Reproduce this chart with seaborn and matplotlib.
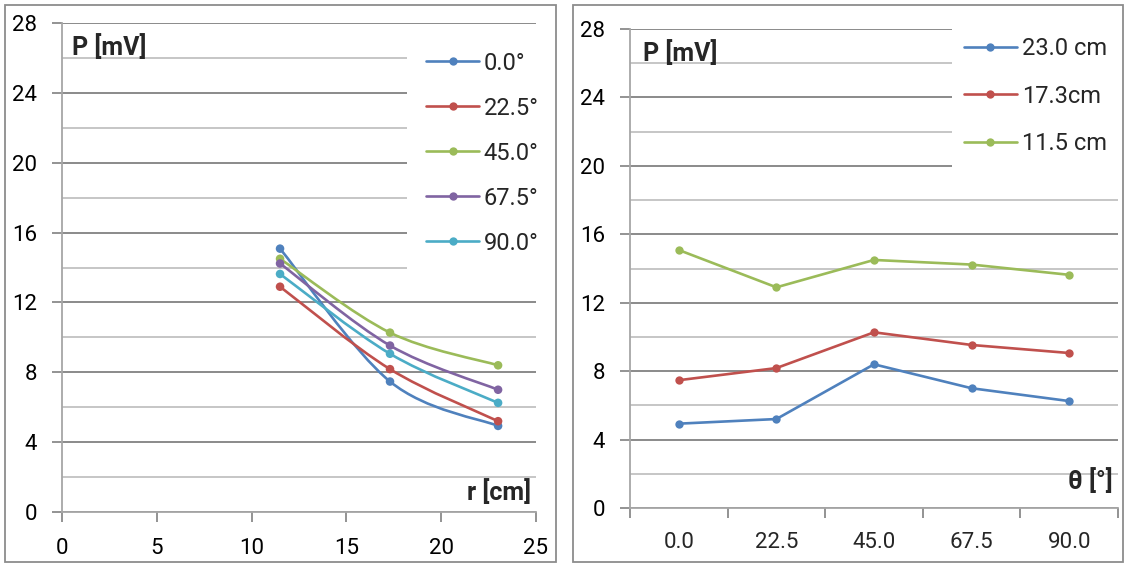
import matplotlib
matplotlib.use("Agg")
import numpy as np
import pandas as pd
import seaborn as sns
import matplotlib.pyplot as plt
from matplotlib.path import Path
from matplotlib.patches import PathPatch, Rectangle
from matplotlib.lines import Line2D

# data
r_cm = [11.5, 17.3, 23.0]
angle_labels = ["0.0", "22.5", "45.0", "67.5", "90.0"]
P_23cm = [4.93, 5.20, 8.40, 7.00, 6.25]
P_17cm = [7.47, 8.18, 10.27, 9.53, 9.06]
P_11cm = [15.08, 12.90, 14.50, 14.23, 13.63]

colors = ["#4F81BD", "#C0504D", "#9BBB59", "#8064A2", "#4BACC6"]
dist_names = ["23.0 cm", "17.3cm", "11.5 cm"]

sns.set_theme(style="white")
plt.rcParams['font.family'] = ['Roboto', 'DejaVu Sans']
FS = 16      # tick labels
LFS = 17     # legend
BFS = 18     # bold axis titles

W, H = 1128, 565
fig = plt.figure(figsize=(W / 100, H / 100), dpi=100)
fig.patch.set_facecolor("white")

# panel frames
fig.add_artist(Rectangle((5 / W, 1 - 562 / H), 551 / W, 557 / H, transform=fig.transFigure,
                         fill=False, ec="#8c8c8c", lw=1.3))
fig.add_artist(Rectangle((573 / W, 1 - 562 / H), 550 / W, 557 / H, transform=fig.transFigure,
                         fill=False, ec="#8c8c8c", lw=1.3))

ax1 = fig.add_axes([62 / W, 1 - 512 / H, 474 / W, 489 / H])
ax2 = fig.add_axes([630 / W, 1 - 508 / H, 488 / W, 479 / H])


def style(ax):
    ax.set_ylim(0, 28)
    ax.set_yticks(range(0, 29, 4))
    for v in range(2, 28, 4):
        ax.axhline(v, color="#c6c6c6", lw=1.4, zorder=0.4)
    ax.grid(axis="y", color="#8a8a8a", lw=1.4)
    ax.grid(axis="x", visible=False)
    ax.set_axisbelow(True)
    for s in ["top", "right"]:
        ax.spines[s].set_visible(False)
    for s in ["left", "bottom"]:
        ax.spines[s].set_color("#a6a6a6")
        ax.spines[s].set_linewidth(1.3)
    ax.tick_params(left=True, bottom=True, direction="out", length=7, width=1.3,
                   color="#8a8a8a", labelsize=FS, labelcolor="black")
    ax.tick_params(axis="y", pad=11)
    ax.tick_params(axis="x", pad=12)
    ax.set_xlabel("")
    ax.set_ylabel("")


# left panel: P vs r, one smoothed curve per angle
rows = []
for i, a in enumerate(angle_labels):
    for r, p in zip(r_cm, [P_11cm[i], P_17cm[i], P_23cm[i]]):
        rows.append({"r": r, "P": p, "angle": a + "°"})
df_r = pd.DataFrame(rows)
pal_r = {a + "°": c for a, c in zip(angle_labels, colors)}

for i, a in enumerate(angle_labels):
    sub = df_r[df_r["angle"] == a + "°"]
    pts = np.column_stack([sub["r"].values, sub["P"].values])
    ext = np.vstack([pts[0], pts, pts[-1]])
    verts = [pts[0]]
    for k in range(len(pts) - 1):
        p0, p1, p2, p3 = ext[k], ext[k + 1], ext[k + 2], ext[k + 3]
        verts += [p1 + (p2 - p0) / 6, p2 - (p3 - p1) / 6, p2]
    codes = [Path.MOVETO] + [Path.CURVE4] * (len(verts) - 1)
    ax1.add_patch(PathPatch(Path(verts, codes), fill=False, ec=colors[i], lw=1.9, zorder=2 + i))

sns.scatterplot(data=df_r, x="r", y="P", hue="angle", palette=pal_r, s=38,
                linewidth=0, legend=False, ax=ax1, zorder=10)
style(ax1)
ax1.set_xlim(0, 25)
ax1.set_xticks(range(0, 26, 5))

h1 = [Line2D([], [], color=c, lw=1.9, marker="o", ms=6, mew=0) for c in colors]
leg1 = ax1.legend(h1, [a + "°" for a in angle_labels], loc="upper left",
                  bbox_to_anchor=(0.728, 0.98), frameon=True, facecolor="white",
                  edgecolor="none", framealpha=1, fancybox=False, fontsize=LFS,
                  handlelength=2.25, handletextpad=0.2, labelspacing=0.93,
                  borderaxespad=0, borderpad=0.8)
leg1.set_zorder(20)

ax1.text(0.021, 0.977, "P [mV]", transform=ax1.transAxes, ha="left", va="top",
         fontsize=BFS, fontweight="bold", zorder=30)
ax1.text(0.99, 0.015, "r [cm]", transform=ax1.transAxes, ha="right", va="bottom",
         fontsize=BFS, fontweight="bold", zorder=30)

# right panel: P vs angle, one line per distance
rows = []
for name, vals in zip(dist_names, [P_23cm, P_17cm, P_11cm]):
    for k, v in enumerate(vals):
        rows.append({"pos": k, "P": v, "dist": name})
df_t = pd.DataFrame(rows)
pal_t = dict(zip(dist_names, colors[:3]))

sns.lineplot(data=df_t, x="pos", y="P", hue="dist", palette=pal_t, marker="o",
             markersize=6, markeredgewidth=0, lw=1.9, legend=False, ax=ax2)
style(ax2)
ax2.set_xlim(-0.5, 4.5)
ax2.set_xticks(np.arange(-0.5, 5, 1))
ax2.set_xticklabels([])
ax2.set_xticks(range(5), minor=True)
ax2.set_xticklabels(angle_labels, minor=True)
ax2.tick_params(axis="x", which="minor", length=0, pad=17, labelsize=FS)

h2 = [Line2D([], [], color=c, lw=1.9, marker="o", ms=6, mew=0) for c in colors[:3]]
leg2 = ax2.legend(h2, dist_names, loc="upper left", bbox_to_anchor=(0.66, 1.008),
                  frameon=True, facecolor="white", edgecolor="none", framealpha=1,
                  fancybox=False, fontsize=LFS, handlelength=2.25, handletextpad=0.2,
                  labelspacing=1.04, borderaxespad=0, borderpad=0.5)
leg2.set_zorder(20)

ax2.text(0.027, 0.977, "P [mV]", transform=ax2.transAxes, ha="left", va="top",
         fontsize=BFS, fontweight="bold", zorder=30)
ax2.text(0.99, 0.03, "θ [°]", transform=ax2.transAxes, ha="right", va="bottom",
         fontsize=BFS, fontweight="bold", zorder=30)

fig.savefig("out.png", dpi=100)
